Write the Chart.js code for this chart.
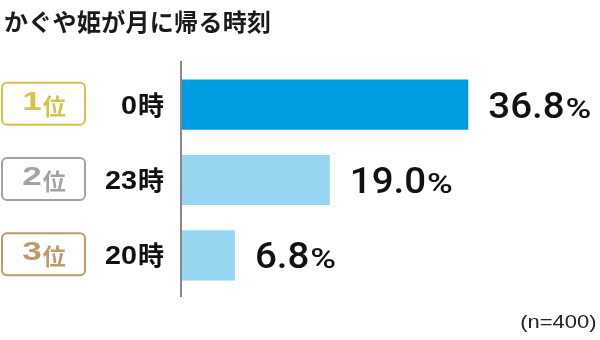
<!DOCTYPE html>
<html><head><meta charset="utf-8">
<script src="https://cdn.jsdelivr.net/npm/chart.js@4"></script>
<style>
html,body{margin:0;padding:0;background:#fff;}
#wrap{position:relative;width:600px;height:340px;}
#title{position:absolute;left:4px;top:3px;font:bold 24px "Noto Sans CJK JP","Noto Sans",sans-serif;color:#1a1a1a;letter-spacing:0.3px;}
#note{position:absolute;right:3px;top:312px;font:18px "Liberation Sans",Arial,sans-serif;color:#222;transform:scaleX(1.22);transform-origin:right center;}
canvas{position:absolute;left:0;top:0;}
</style></head>
<body>
<div id="wrap">
<canvas id="c" width="600" height="340"></canvas>
<div id="title">かぐや姫が月に帰る時刻</div>
<div id="note">(n=400)</div>
</div>
<script>
const categories = ["0時", "23時", "20時"];
const ranks = ["1", "2", "3"];
const values = [36.8, 19.0, 6.8];
const barColors = ["#009ee0", "#96d6f1", "#96d6f1"];
const rankColors = ["#d7c24c", "#a3a3a3", "#bc9a6c"];

function scaledText(ctx, text, x, y, sx, align) {
  const w = ctx.measureText(text).width * sx;
  const left = align === 'right' ? x - w : x;
  ctx.save();
  ctx.textAlign = 'left';
  ctx.translate(left, y);
  ctx.scale(sx, 1);
  ctx.fillText(text, 0, 0);
  ctx.restore();
  return w;
}

const labelPlugin = {
  id: 'labels',
  afterDatasetsDraw(chart) {
    const ctx = chart.ctx;
    const x = chart.scales.x, y = chart.scales.y;
    const area = chart.chartArea;
    ctx.save();
    ctx.strokeStyle = '#888';
    ctx.lineWidth = 2;
    ctx.beginPath();
    ctx.moveTo(area.left - 1, area.top - 6);
    ctx.lineTo(area.left - 1, area.bottom + 4);
    ctx.stroke();
    ctx.textBaseline = 'alphabetic';
    values.forEach((v, i) => {
      const cy = y.getPixelForValue(i);
      // rank box
      ctx.strokeStyle = rankColors[i];
      ctx.lineWidth = 2;
      ctx.beginPath();
      ctx.roundRect(2, cy - 22, 83, 42, 5);
      ctx.stroke();
      ctx.fillStyle = rankColors[i];
      const rsx = 1.35;
      ctx.font = 'bold 26px "Liberation Sans", Arial, sans-serif';
      const nw = ctx.measureText(ranks[i]).width * rsx;
      ctx.font = 'bold 23px "Noto Sans CJK JP", sans-serif';
      const kw = ctx.measureText('位').width;
      const sx = 44 - (nw + kw + 1) / 2;
      ctx.font = 'bold 26px "Liberation Sans", Arial, sans-serif';
      scaledText(ctx, ranks[i], sx, cy + 5, rsx, 'left');
      ctx.font = 'bold 23px "Noto Sans CJK JP", sans-serif';
      ctx.textAlign = 'left';
      ctx.fillText('位', sx + nw + 1, cy + 10);
      // time label
      ctx.fillStyle = '#111';
      const num = categories[i].replace('時', '');
      ctx.font = 'bold 26px "Noto Sans CJK JP", sans-serif';
      const jw = ctx.measureText('時').width;
      ctx.textAlign = 'right';
      ctx.fillText('時', 164, cy + 10);
      ctx.font = 'bold 25px "Liberation Sans", Arial, sans-serif';
      scaledText(ctx, num, 164 - jw - 1, cy + 9, 1.15, 'right');
      // value label
      const vx = x.getPixelForValue(v) + 20;
      ctx.textAlign = 'left';
      ctx.font = '500 37px Roboto, "Liberation Sans", sans-serif';
      const vs = v.toFixed(1);
      const vw = scaledText(ctx, vs, vx, cy + 13, 1.04, 'left');
      ctx.font = '500 28px Roboto, "Liberation Sans", sans-serif';
      scaledText(ctx, '%', vx + vw + 1, cy + 13, 1.25, 'left');
    });
    ctx.restore();
  }
};

new Chart(document.getElementById('c'), {
  type: 'bar',
  data: {
    labels: categories,
    datasets: [{ data: values, backgroundColor: barColors, borderWidth: 0,
      barPercentage: 0.667, categoryPercentage: 1.0 }]
  },
  options: {
    indexAxis: 'y',
    responsive: false,
    animation: false,
    layout: { padding: { left: 182, right: 29, top: 67, bottom: 47 } },
    plugins: { legend: { display: false }, tooltip: { enabled: false }, title: { display: false } },
    scales: {
      x: { display: false, min: 0, max: 50 },
      y: { display: false }
    }
  },
  plugins: [labelPlugin]
});
</script>
</body></html>
